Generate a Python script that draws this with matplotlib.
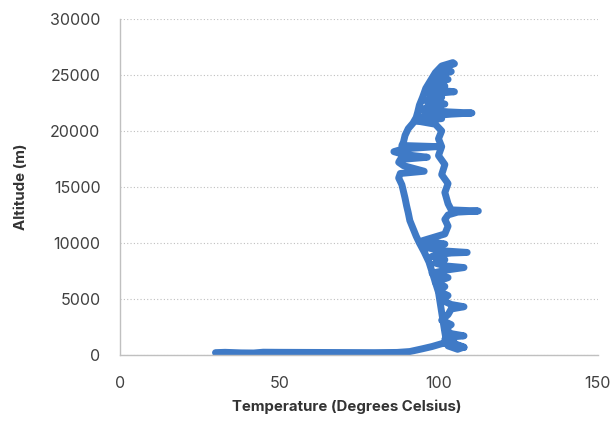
import matplotlib
matplotlib.use("Agg")
import matplotlib.pyplot as plt

plt.rcParams['font.family'] = ['Inter', 'DejaVu Sans']

# flight trace: temperature (deg C) vs altitude (m)
# ground run
ground_temp = [30, 33, 38, 42, 45, 50, 60, 70, 80, 87, 91, 95, 98, 101]
ground_alt = [200, 230, 180, 170, 240, 230, 220, 210, 200, 220, 300, 550, 750, 1000]

# climb, mostly on the warm (right) side
climb_temp = [104, 108, 106, 103, 105, 102, 104, 108, 104, 102, 104, 101, 103, 104,
              108, 104, 101, 103, 100, 102, 99, 103, 98, 103, 108, 102, 99, 102, 98, 101,
              104, 109, 101, 96, 102, 95, 102, 103, 102, 103, 106, 112.5, 104, 103, 102,
              103, 101, 102, 100, 101, 100, 101, 99, 93, 101, 95, 104, 110.5, 103, 95,
              97, 102, 96, 101, 97, 105, 97, 102, 98, 103, 99, 104, 101, 105, 104.5]
climb_alt = [1100, 700, 500, 800, 1100, 1400, 1600, 1700, 1900, 2300, 2700, 3100, 3600, 4100,
             4300, 4500, 4900, 5300, 5700, 6100, 6500, 6900, 7300, 7600, 7800, 7950, 8200, 8500, 8800, 9000,
             9100, 9150, 9300, 9600, 9900, 10200, 10800, 11500, 12100, 12500, 12750, 12850, 12950, 13500, 14500,
             15300, 16100, 17000, 17800, 18600, 19300, 20000, 20600, 20900, 21100, 21300, 21500, 21600, 21700, 21900,
             22200, 22400, 22700, 23000, 23300, 23500, 23700, 24000, 24300, 24600, 24900, 25300, 25600, 26000, 26100]

# descent, on the cool (left) side
fall_temp = [101, 99, 97.5, 96, 95, 94, 93.5, 93, 92, 90.5, 89.5, 89, 88.5, 99.5, 89,
             86, 89, 96.5, 88, 87.5, 89, 95.5, 88, 87.5, 88.5, 89, 89.5, 90, 90.5, 91,
             92, 93, 94, 95.5, 97, 98, 99, 100, 100.5, 101, 101.5, 102, 102.5, 106, 108]
fall_alt = [25800, 25200, 24500, 23800, 23000, 22300, 21700, 21200, 20700, 20200, 19600, 19000, 18700, 18600, 18400,
            18150, 17900, 17650, 17450, 17200, 16900, 16400, 16200, 15800, 15200, 14600, 14000, 13300, 12700, 12000,
            11300, 10600, 10000, 9200, 8300, 7400, 6500, 5600, 4700, 3800, 2900, 2000, 1200, 850, 650]

x_ticks = [0, 50, 100, 150]
y_ticks = [0, 5000, 10000, 15000, 20000, 25000, 30000]

fig = plt.figure(figsize=(6.15, 4.21), dpi=100)
ax = fig.add_axes([0.195, 0.157, 0.777, 0.798])

temp = ground_temp + climb_temp + fall_temp
alt = ground_alt + climb_alt + fall_alt
ax.plot(temp, alt, color='#3f7ac6', lw=5,
        solid_capstyle='round', solid_joinstyle='round')

ax.set_xlim(0, 150)
ax.set_ylim(0, 30000)
ax.set_xticks(x_ticks)
ax.set_yticks(y_ticks)
ax.grid(axis='y', color='#bfbfbf', linestyle=(0, (1, 2)), lw=0.8)
ax.set_axisbelow(True)

for s in ['top', 'right']:
    ax.spines[s].set_visible(False)
for s in ['left', 'bottom']:
    ax.spines[s].set_color('#c0c0c0')
    ax.spines[s].set_linewidth(1)

ax.tick_params(axis='both', length=0, labelsize=11.5, labelcolor='#404040')
ax.tick_params(axis='x', pad=15)
ax.tick_params(axis='y', pad=14)

ax.set_xlabel('Temperature (Degrees Celsius)', fontsize=10.8, fontweight='bold',
              color='#333333', labelpad=6)
ax.xaxis.label.set_x(0.475)
ax.set_ylabel('Altitude (m)', fontsize=10.8, fontweight='bold',
              color='#333333', labelpad=16)

fig.savefig('out.png', dpi=100)
